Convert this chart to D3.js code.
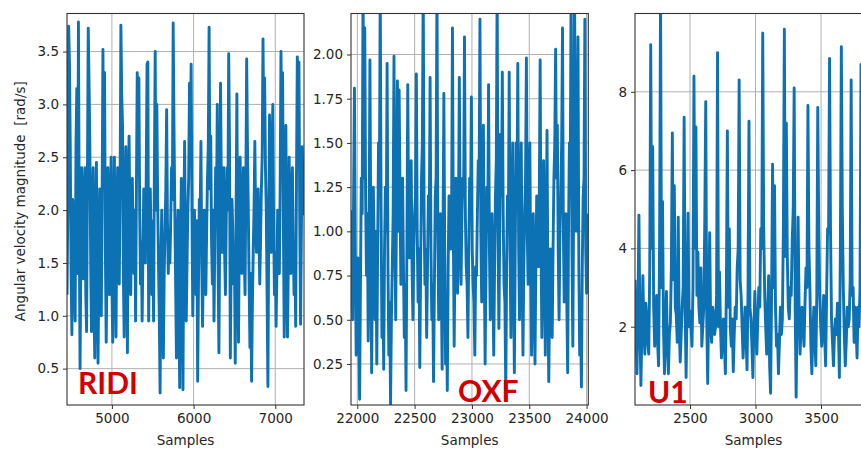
<!DOCTYPE html>
<html>
<head>
<meta charset="utf-8">
<script src="https://cdn.jsdelivr.net/npm/d3@7"></script>
<style>
  html, body { margin: 0; padding: 0; background: #fff; }
  svg { display: block; }
  .tick text { font-family: "DejaVu Sans", sans-serif; font-size: 13.5px; fill: #262626; }
</style>
</head>
<body>
<svg id="chart" width="861" height="449"></svg>
<script>
// ---------- DATA ----------
const ridiStart = 4450, ridiStep = 10;
const ridiValues = [
1.2,2.0,3.74,3.4,2.6,1.4,0.82,2.1,1.8,1.3,0.95,2.6,3.15,1.4,3.78,1.9,0.5,1.6,2.4,
1.7,1.35,2.1,2.4,1.2,0.85,2.3,3.72,3.2,2.6,1.5,0.85,1.9,2.4,1.1,0.6,1.8,2.45,1.3,0.55,
1.4,2.2,1.6,1.0,2.1,3.52,2.4,3.3,1.6,0.75,1.5,2.4,1.8,1.2,2.0,2.5,1.3,0.75,1.9,2.5,
1.6,0.8,1.9,2.4,1.7,1.3,2.2,3.75,3.1,2.8,1.4,0.8,2.0,2.6,1.5,0.65,2.2,2.7,1.9,1.2,
1.8,2.3,1.7,1.4,2.0,0.95,2.2,3.3,2.5,3.25,2.0,1.3,1.7,0.95,1.6,2.2,1.9,1.5,2.3,3.38,
3.4,0.95,1.7,2.2,1.6,1.2,1.9,0.95,2.4,3.5,2.0,3.0,2.1,1.5,1.0,0.27,1.5,2.0,1.4,0.6,
1.4,1.8,2.2,2.95,1.9,1.4,1.8,1.5,1.9,2.4,2.1,3.77,2.8,2.0,1.3,0.6,1.7,2.0,1.0,0.32,
1.6,2.3,1.4,0.3,1.8,2.65,1.7,0.95,1.5,2.0,2.3,3.2,2.6,3.38,2.0,1.0,1.6,2.0,1.7,1.2,
1.9,0.38,1.3,2.1,1.9,2.65,1.5,0.9,1.6,2.0,1.5,1.2,1.8,2.3,2.6,3.73,2.2,2.7,1.7,1.3,
2.0,0.95,1.7,2.4,1.9,3.0,1.5,0.65,1.8,3.2,2.2,1.6,2.0,2.4,1.6,1.2,1.9,2.4,2.0,3.48,
2.6,0.6,1.5,2.1,1.8,1.3,1.6,0.55,1.9,3.1,1.6,0.75,1.8,2.5,1.9,1.4,1.9,2.4,1.6,1.2,
2.2,3.43,2.6,2.0,1.3,0.7,1.4,0.38,1.1,1.6,2.0,2.65,1.9,1.6,1.8,2.2,1.8,1.3,1.7,2.2,
2.5,3.62,2.7,3.25,2.4,2.0,1.2,0.33,1.8,2.9,2.3,1.6,2.4,3.0,1.9,1.2,1.6,0.9,1.4,2.0,
1.7,1.4,2.2,3.5,2.8,3.3,1.8,0.8,1.7,2.8,1.6,0.8,1.5,2.5,1.9,1.4,2.0,2.4,1.7,1.2,
1.6,0.9,2.3,3.45,2.6,3.4,1.9,0.92,1.8,2.6,2.2,1.95];

const oxfStart = 21945, oxfStep = 7.5;
const oxfValues = [
1.12,0.8,0.5,1.2,1.81,0.9,0.3,0.6,0.85,0.5,0.05,0.7,1.3,1.1,2.4,1.3,2.15,1.2,0.75,
1.1,0.38,0.9,1.97,1.0,0.2,0.8,1.25,0.9,0.5,1.0,0.25,0.9,1.5,1.2,2.4,1.1,0.4,0.8,0.22,
0.9,1.25,1.0,1.95,0.8,0.3,0.6,0.02,0.5,0.8,1.1,1.99,1.0,0.5,1.2,1.85,1.0,1.8,1.2,0.7,
1.0,1.3,0.8,0.4,0.7,0.1,0.9,1.83,1.1,0.85,1.2,1.4,0.8,0.5,0.9,1.1,1.2,1.89,1.0,0.6,
0.9,0.23,0.8,1.3,1.5,2.4,1.1,0.7,0.9,0.4,0.8,1.2,1.0,1.87,0.9,0.5,0.7,0.15,0.7,1.2,
1.3,2.4,1.0,0.5,0.9,1.1,0.7,0.22,1.0,1.78,0.9,0.25,0.6,0.1,0.8,1.2,1.0,0.9,1.1,2.15,
1.0,0.35,0.9,1.3,1.0,0.65,1.1,1.87,1.0,0.7,1.1,1.3,1.2,2.1,1.1,0.8,0.7,0.4,0.9,1.3,
1.1,1.76,0.9,0.7,0.6,0.3,0.8,0.75,1.1,1.4,1.3,2.2,1.0,0.6,1.2,1.6,0.8,0.25,0.8,1.25,
1.0,1.83,0.9,0.5,0.8,1.1,0.7,0.3,0.8,1.2,1.4,2.4,1.0,0.45,1.0,1.55,1.2,1.9,1.1,0.7,
0.6,0.1,0.8,1.2,1.0,1.9,0.9,0.4,0.9,1.5,0.8,0.2,0.9,1.5,1.2,1.95,0.9,0.5,1.0,1.5,
0.8,0.3,0.8,1.1,1.3,1.98,1.0,0.7,1.1,1.5,0.8,0.3,0.7,1.1,0.6,0.25,0.8,1.2,1.0,0.8,
1.2,1.97,0.9,0.4,1.0,1.4,0.8,0.3,1.0,1.57,0.7,0.15,0.6,0.9,0.7,0.4,0.9,1.3,1.5,2.03,
1.3,1.6,0.9,0.5,1.0,1.2,1.5,2.15,1.0,0.6,0.9,1.1,0.6,0.2,1.0,1.5,1.3,2.4,0.9,0.35,
1.2,2.4,1.3,1.0,1.4,2.1,0.8,0.3,0.5,0.12,0.8,1.2,1.3,2.2,0.9,0.65,0.9,1.1];

const u1Start = 2080, u1Step = 7.5;
const u1Values = [
3.2,1.8,0.8,2.5,4.85,2.0,0.5,1.9,3.3,2.0,1.3,2.6,2.2,1.6,1.3,3.5,9.2,4.0,6.6,
2.5,1.5,2.1,2.8,1.6,1.0,4.1,10.5,3.0,5.2,2.0,0.8,2.0,2.9,1.5,0.8,1.8,2.1,3.5,6.95,
3.2,5.6,2.5,2.3,1.6,4.8,2.0,1.1,1.8,2.5,3.0,7.35,2.5,0.7,2.5,4.9,2.0,2.4,2.0,1.5,
3.0,8.4,4.0,7.1,2.8,3.9,2.5,2.1,3.5,1.5,2.0,2.5,4.7,7.75,2.2,0.55,2.6,4.4,2.0,1.6,
2.5,2.3,1.8,2.0,2.8,9.0,2.0,3.4,2.0,1.2,1.9,2.2,1.5,0.8,3.0,7.0,2.5,4.5,2.0,1.5,
2.2,0.85,1.8,2.5,2.2,3.5,4.0,8.3,3.2,2.8,2.0,1.2,1.8,2.5,1.8,0.9,2.9,7.25,2.5,2.2,
1.5,0.7,2.0,2.9,1.8,1.3,2.2,3.0,2.5,4.5,4.0,9.5,4.5,2.8,2.0,1.3,2.4,3.3,1.0,0.3,
2.8,6.15,3.0,5.6,2.5,1.5,1.8,0.8,1.6,2.5,1.8,2.2,4.5,9.6,3.8,7.2,3.8,2.5,2.2,3.0,
2.8,4.2,5.0,8.1,2.5,0.2,2.5,4.8,2.5,1.3,2.0,2.5,2.0,1.5,2.6,3.5,3.0,7.65,4.0,3.0,
1.5,0.8,1.8,2.5,1.8,1.0,2.8,7.6,4.5,2.8,2.0,1.5,2.0,2.8,1.8,1.0,2.8,4.5,4.4,8.85,
4.4,2.2,1.6,1.0,1.8,2.2,1.8,2.6,2.0,0.7,4.0,9.15,5.0,3.0,1.8,1.0,1.6,2.5,2.0,2.2,
3.2,8.3,2.8,3.0,1.6,2.5,2.0,1.2,2.5,2.0,3.0,8.7,3.0,4.9,2.2,1.5,2.0,3.0,2.0,1.2,
3.5,8.0];

const ridiXTicks = [5000, 6000, 7000];
const ridiYTicks = [0.5, 1.0, 1.5, 2.0, 2.5, 3.0, 3.5];
const oxfXTicks = [22000, 22500, 23000, 23500, 24000];
const oxfYTicks = [0.25, 0.5, 0.75, 1.0, 1.25, 1.5, 1.75, 2.0];
const u1XTicks = [2500, 3000, 3500, 4000];
const u1YTicks = [2, 4, 6, 8];

const panelNames = ["RIDI", "OXF", "U1"];
const xLabel = "Samples";
const yLabel = "Angular velocity magnitude  [rad/s]";

// ---------- LAYOUT ----------
const svg = d3.select("#chart");
const plotTop = 13.5, plotBottom = 405;
const lineColor = "#0d72b4";

const panels = [
  { name: panelNames[0], left: 67, right: 304, xDomain: [4450, 7352], yDomain: [0.156, 3.86],
    start: ridiStart, step: ridiStep, values: ridiValues, xTicks: ridiXTicks, yTicks: ridiYTicks,
    yFmt: d3.format(".1f"), labelX: 78, labelY: 394 },
  { name: panelNames[1], left: 351, right: 588.3, xDomain: [21945, 24015], yDomain: [0.018, 2.232],
    start: oxfStart, step: oxfStep, values: oxfValues, xTicks: oxfXTicks, yTicks: oxfYTicks,
    yFmt: d3.format(".2f"), labelX: 458, labelY: 402 },
  { name: panelNames[2], left: 635, right: 872, xDomain: [2080, 3889], yDomain: [0, 10.0],
    start: u1Start, step: u1Step, values: u1Values, xTicks: u1XTicks, yTicks: u1YTicks,
    yFmt: d3.format("d"), labelX: 648, labelY: 403 }
];

const defs = svg.append("defs");

panels.forEach((p, k) => {
  const x = d3.scaleLinear().domain(p.xDomain).range([p.left, p.right]);
  const y = d3.scaleLinear().domain(p.yDomain).range([plotBottom, plotTop]);
  const g = svg.append("g");
  const visX = p.xTicks.filter(t => t >= p.xDomain[0] && t <= p.xDomain[1]);

  // grid
  g.append("g").selectAll("line").data(visX)
    .join("line")
    .attr("x1", d => x(d)).attr("x2", d => x(d)).attr("y1", plotTop).attr("y2", plotBottom)
    .attr("stroke", "#b0b0b0").attr("stroke-width", 1);
  g.append("g").selectAll("line").data(p.yTicks)
    .join("line")
    .attr("x1", p.left).attr("x2", p.right).attr("y1", d => y(d)).attr("y2", d => y(d))
    .attr("stroke", "#b0b0b0").attr("stroke-width", 1);

  // clip
  defs.append("clipPath").attr("id", "clip" + k)
    .append("rect").attr("x", p.left).attr("y", plotTop).attr("width", p.right - p.left).attr("height", plotBottom - plotTop);

  const pts = p.values.map((v, i) => [p.start + i * p.step, v]);
  const line = d3.line().x(d => x(d[0])).y(d => y(d[1]));
  g.append("path").datum(pts)
    .attr("clip-path", `url(#clip${k})`)
    .attr("d", line)
    .attr("fill", "none").attr("stroke", lineColor)
    .attr("stroke-width", 2.9).attr("stroke-linejoin", "round");

  // axes
  const xAxis = d3.axisBottom(x).tickValues(visX)
    .tickFormat(d3.format("d")).tickSize(4).tickPadding(4);
  const gx = g.append("g").attr("transform", `translate(0,${plotBottom})`).call(xAxis);
  gx.select(".domain").remove();
  gx.selectAll(".tick line").attr("stroke", "#333");

  const yAxis = d3.axisLeft(y).tickValues(p.yTicks).tickFormat(p.yFmt).tickSize(4).tickPadding(4);
  const gy = g.append("g").attr("transform", `translate(${p.left},0)`).call(yAxis);
  gy.select(".domain").remove();
  gy.selectAll(".tick line").attr("stroke", "#333");

  // frame
  g.append("rect").attr("x", p.left).attr("y", plotTop).attr("width", p.right - p.left).attr("height", plotBottom - plotTop)
    .attr("fill", "none").attr("stroke", "#333").attr("stroke-width", 1.1);

  // x label
  g.append("text").attr("x", (p.left + p.right) / 2).attr("y", 445)
    .attr("text-anchor", "middle").attr("font-family", "DejaVu Sans, sans-serif")
    .attr("font-size", 13.5).attr("fill", "#262626").text(xLabel);

  // panel name
  g.append("text").attr("x", p.labelX).attr("y", p.labelY)
    .attr("font-family", "Lato, 'Open Sans', sans-serif").attr("font-weight", 700)
    .attr("font-size", 30).attr("fill", "#d10000").text(p.name);
});

// y label
svg.append("text")
  .attr("transform", `translate(25,${(plotTop + plotBottom) / 2 - 8}) rotate(-90)`)
  .attr("text-anchor", "middle").attr("font-family", "DejaVu Sans, sans-serif")
  .attr("font-size", 13.5).attr("fill", "#262626")
  .style("white-space", "pre")
  .text(yLabel);
</script>
</body>
</html>
